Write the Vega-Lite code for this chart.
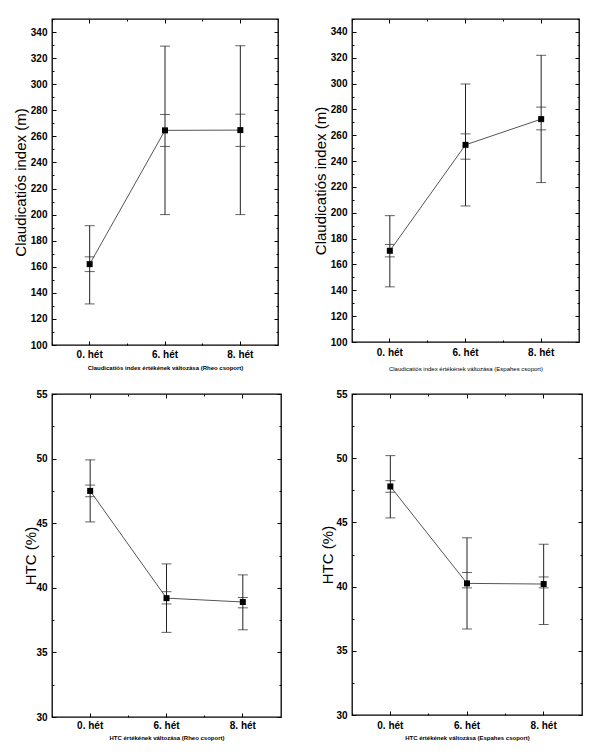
{
  "$schema": "https://vega.github.io/schema/vega-lite/v6.json",
  "padding": {"left": 12, "top": 17, "right": 5, "bottom": 5},
  "background": "white",
  "config": {
    "font": "Liberation Sans",
    "view": {"stroke": "black", "strokeWidth": 1.3},
    "axis": {"domain": false, "grid": false, "labelFont": "Liberation Sans", "labelFontSize": 10, "labelFontWeight": "bold", "labelColor": "black", "tickColor": "black", "tickWidth": 1, "titleFont": "Liberation Sans", "titleColor": "black"},
    "axisX": {"titleFontSize": 6, "titleFontWeight": "bold", "labelAngle": 0},
    "axisY": {"titleFontSize": 15, "titleFontWeight": "normal"}
  },
  "datasets": {
    "claud_rheo": [
      {"het": "0. hét", "mean": 162, "sd_lo": 131.5, "sd_hi": 191.5, "se_lo": 156.3, "se_hi": 167.6},
      {"het": "6. hét", "mean": 264.6, "sd_lo": 200, "sd_hi": 329.2, "se_lo": 252.3, "se_hi": 276.8},
      {"het": "8. hét", "mean": 264.8, "sd_lo": 200, "sd_hi": 329.5, "se_lo": 252.3, "se_hi": 277}
    ],
    "claud_esp": [
      {"het": "0. hét", "mean": 170.6, "sd_lo": 142.7, "sd_hi": 197.8, "se_lo": 165.9, "se_hi": 175.5},
      {"het": "6. hét", "mean": 252.6, "sd_lo": 205.3, "sd_hi": 299.7, "se_lo": 241.5, "se_hi": 261.1},
      {"het": "8. hét", "mean": 272.5, "sd_lo": 223.4, "sd_hi": 321.9, "se_lo": 264.2, "se_hi": 281.8}
    ],
    "htc_rheo": [
      {"het": "0. hét", "mean": 47.5, "sd_lo": 45.1, "sd_hi": 49.9, "se_lo": 47.05, "se_hi": 47.95},
      {"het": "6. hét", "mean": 39.2, "sd_lo": 36.55, "sd_hi": 41.85, "se_lo": 38.75, "se_hi": 39.7},
      {"het": "8. hét", "mean": 38.9, "sd_lo": 36.75, "sd_hi": 41.0, "se_lo": 38.45, "se_hi": 39.25}
    ],
    "htc_esp": [
      {"het": "0. hét", "mean": 47.8, "sd_lo": 45.35, "sd_hi": 50.2, "se_lo": 47.35, "se_hi": 48.25},
      {"het": "6. hét", "mean": 40.25, "sd_lo": 36.7, "sd_hi": 43.8, "se_lo": 39.9, "se_hi": 41.1},
      {"het": "8. hét", "mean": 40.2, "sd_lo": 37.05, "sd_hi": 43.3, "se_lo": 39.9, "se_hi": 40.75}
    ]
  },
  "columns": 2,
  "spacing": {"row": 16, "column": 29},
  "concat": [
    {
      "width": 226, "height": 326,
      "data": {"name": "claud_rheo"},
      "layer": [
        {"mark": {"type": "rule", "color": "#222", "strokeWidth": 1},
         "encoding": {
           "x": {"field": "het", "type": "nominal", "sort": null, "bandPosition": 0.5, "scale": {"type": "band", "paddingInner": 0, "paddingOuter": 0},
                 "axis": {"orient": "bottom", "title": "Claudicatiós index értékének változása (Rheo csoport)", "tickSize": -4, "labelPadding": 8, "bandPosition": 0.5, "titlePadding": 5}},
           "y": {"field": "sd_lo", "type": "quantitative", "scale": {"domain": [100, 350], "nice": false, "zero": false},
                 "axis": {"orient": "left", "title": "Claudicatiós index (m)", "values": [100,120,140,160,180,200,220,240,260,280,300,320,340], "tickSize": -4, "labelPadding": 9, "titlePadding": 2}},
           "y2": {"field": "sd_hi"}}},
        {"transform": [{"fold": ["sd_lo", "sd_hi", "se_lo", "se_hi"], "as": ["k", "v"]}],
         "mark": {"type": "tick", "orient": "horizontal", "size": 10, "thickness": 1, "color": "#222"},
         "encoding": {
           "x": {"field": "het", "type": "nominal", "sort": null, "bandPosition": 0.5, "axis": {"orient": "top", "labels": false, "title": null, "tickSize": -4, "bandPosition": 0.5}},
           "y": {"field": "v", "type": "quantitative", "axis": {"orient": "right", "labels": false, "title": null, "values": [100,120,140,160,180,200,220,240,260,280,300,320,340], "tickSize": -4}}}},
        {"mark": {"type": "line", "color": "#555", "strokeWidth": 1},
         "encoding": {
           "x": {"field": "het", "type": "nominal", "sort": null, "bandPosition": 0.5, "axis": {"orient": "bottom", "labels": false, "title": null, "tickSize": -2, "bandPosition": 0}},
           "y": {"field": "mean", "type": "quantitative", "axis": {"orient": "left", "labels": false, "title": null, "values": [110,130,150,170,190,210,230,250,270,290,310,330,350], "tickSize": -2}}}},
        {"mark": {"type": "square", "size": 36, "color": "black", "opacity": 1},
         "encoding": {
           "x": {"field": "het", "type": "nominal", "sort": null, "bandPosition": 0.5, "axis": {"orient": "top", "labels": false, "title": null, "tickSize": -2, "bandPosition": 0}},
           "y": {"field": "mean", "type": "quantitative", "axis": {"orient": "right", "labels": false, "title": null, "values": [110,130,150,170,190,210,230,250,270,290,310,330,350], "tickSize": -2}}}}
      ],
      "resolve": {"axis": {"x": "independent", "y": "independent"}}
    },
    {
      "width": 227, "height": 323,
      "data": {"name": "claud_esp"},
      "layer": [
        {"mark": {"type": "rule", "color": "#222", "strokeWidth": 1},
         "encoding": {
           "x": {"field": "het", "type": "nominal", "sort": null, "bandPosition": 0.5, "scale": {"type": "band", "paddingInner": 0, "paddingOuter": 0},
                 "axis": {"orient": "bottom", "title": "Claudicatiós index értékének változása (Espahes csoport)", "tickSize": -4, "labelPadding": 9, "bandPosition": 0.5, "titlePadding": 8, "titleFontWeight": "normal"}},
           "y": {"field": "sd_lo", "type": "quantitative", "scale": {"domain": [100, 350], "nice": false, "zero": false},
                 "axis": {"orient": "left", "title": "Claudicatiós index (m)", "values": [100,120,140,160,180,200,220,240,260,280,300,320,340], "tickSize": -4, "labelPadding": 9, "titlePadding": 2}},
           "y2": {"field": "sd_hi"}}},
        {"transform": [{"fold": ["sd_lo", "sd_hi", "se_lo", "se_hi"], "as": ["k", "v"]}],
         "mark": {"type": "tick", "orient": "horizontal", "size": 10, "thickness": 1, "color": "#222"},
         "encoding": {
           "x": {"field": "het", "type": "nominal", "sort": null, "bandPosition": 0.5, "axis": {"orient": "top", "labels": false, "title": null, "tickSize": -4, "bandPosition": 0.5}},
           "y": {"field": "v", "type": "quantitative", "axis": {"orient": "right", "labels": false, "title": null, "values": [100,120,140,160,180,200,220,240,260,280,300,320,340], "tickSize": -4}}}},
        {"mark": {"type": "line", "color": "#555", "strokeWidth": 1},
         "encoding": {
           "x": {"field": "het", "type": "nominal", "sort": null, "bandPosition": 0.5, "axis": {"orient": "bottom", "labels": false, "title": null, "tickSize": -2, "bandPosition": 0}},
           "y": {"field": "mean", "type": "quantitative", "axis": {"orient": "left", "labels": false, "title": null, "values": [110,130,150,170,190,210,230,250,270,290,310,330,350], "tickSize": -2}}}},
        {"mark": {"type": "square", "size": 36, "color": "black", "opacity": 1},
         "encoding": {
           "x": {"field": "het", "type": "nominal", "sort": null, "bandPosition": 0.5, "axis": {"orient": "top", "labels": false, "title": null, "tickSize": -2, "bandPosition": 0}},
           "y": {"field": "mean", "type": "quantitative", "axis": {"orient": "right", "labels": false, "title": null, "values": [110,130,150,170,190,210,230,250,270,290,310,330,350], "tickSize": -2}}}}
      ],
      "resolve": {"axis": {"x": "independent", "y": "independent"}}
    },
    {
      "width": 229, "height": 323,
      "data": {"name": "htc_rheo"},
      "layer": [
        {"mark": {"type": "rule", "color": "#222", "strokeWidth": 1},
         "encoding": {
           "x": {"field": "het", "type": "nominal", "sort": null, "bandPosition": 0.5, "scale": {"type": "band", "paddingInner": 0, "paddingOuter": 0},
                 "axis": {"orient": "bottom", "title": "HTC értékének változása (Rheo csoport)", "tickSize": -4, "labelPadding": 7, "bandPosition": 0.5, "titlePadding": 4}},
           "y": {"field": "sd_lo", "type": "quantitative", "scale": {"domain": [30, 55], "nice": false, "zero": false},
                 "axis": {"orient": "left", "title": "HTC (%)", "values": [30,35,40,45,50,55], "tickSize": -4, "labelPadding": 9, "titlePadding": -3}},
           "y2": {"field": "sd_hi"}}},
        {"transform": [{"fold": ["sd_lo", "sd_hi", "se_lo", "se_hi"], "as": ["k", "v"]}],
         "mark": {"type": "tick", "orient": "horizontal", "size": 10, "thickness": 1, "color": "#222"},
         "encoding": {
           "x": {"field": "het", "type": "nominal", "sort": null, "bandPosition": 0.5, "axis": {"orient": "top", "labels": false, "title": null, "tickSize": -4, "bandPosition": 0.5}},
           "y": {"field": "v", "type": "quantitative", "axis": {"orient": "right", "labels": false, "title": null, "values": [30,35,40,45,50,55], "tickSize": -4}}}},
        {"mark": {"type": "line", "color": "#555", "strokeWidth": 1},
         "encoding": {
           "x": {"field": "het", "type": "nominal", "sort": null, "bandPosition": 0.5, "axis": {"orient": "bottom", "labels": false, "title": null, "tickSize": -2, "bandPosition": 0}},
           "y": {"field": "mean", "type": "quantitative", "axis": {"orient": "left", "labels": false, "title": null, "values": [32.5,37.5,42.5,47.5,52.5], "tickSize": -2}}}},
        {"mark": {"type": "square", "size": 36, "color": "black", "opacity": 1},
         "encoding": {
           "x": {"field": "het", "type": "nominal", "sort": null, "bandPosition": 0.5, "axis": {"orient": "top", "labels": false, "title": null, "tickSize": -2, "bandPosition": 0}},
           "y": {"field": "mean", "type": "quantitative", "axis": {"orient": "right", "labels": false, "title": null, "values": [32.5,37.5,42.5,47.5,52.5], "tickSize": -2}}}}
      ],
      "resolve": {"axis": {"x": "independent", "y": "independent"}}
    },
    {
      "width": 230, "height": 321,
      "data": {"name": "htc_esp"},
      "layer": [
        {"mark": {"type": "rule", "color": "#222", "strokeWidth": 1},
         "encoding": {
           "x": {"field": "het", "type": "nominal", "sort": null, "bandPosition": 0.5, "scale": {"type": "band", "paddingInner": 0, "paddingOuter": 0},
                 "axis": {"orient": "bottom", "title": "HTC értékének változása (Espahes csoport)", "tickSize": -4, "labelPadding": 9, "bandPosition": 0.5, "titlePadding": 4}},
           "y": {"field": "sd_lo", "type": "quantitative", "scale": {"domain": [30, 55], "nice": false, "zero": false},
                 "axis": {"orient": "left", "title": "HTC (%)", "values": [30,35,40,45,50,55], "tickSize": -4, "labelPadding": 9, "titlePadding": 0}},
           "y2": {"field": "sd_hi"}}},
        {"transform": [{"fold": ["sd_lo", "sd_hi", "se_lo", "se_hi"], "as": ["k", "v"]}],
         "mark": {"type": "tick", "orient": "horizontal", "size": 10, "thickness": 1, "color": "#222"},
         "encoding": {
           "x": {"field": "het", "type": "nominal", "sort": null, "bandPosition": 0.5, "axis": {"orient": "top", "labels": false, "title": null, "tickSize": -4, "bandPosition": 0.5}},
           "y": {"field": "v", "type": "quantitative", "axis": {"orient": "right", "labels": false, "title": null, "values": [30,35,40,45,50,55], "tickSize": -4}}}},
        {"mark": {"type": "line", "color": "#555", "strokeWidth": 1},
         "encoding": {
           "x": {"field": "het", "type": "nominal", "sort": null, "bandPosition": 0.5, "axis": {"orient": "bottom", "labels": false, "title": null, "tickSize": -2, "bandPosition": 0}},
           "y": {"field": "mean", "type": "quantitative", "axis": {"orient": "left", "labels": false, "title": null, "values": [32.5,37.5,42.5,47.5,52.5], "tickSize": -2}}}},
        {"mark": {"type": "square", "size": 36, "color": "black", "opacity": 1},
         "encoding": {
           "x": {"field": "het", "type": "nominal", "sort": null, "bandPosition": 0.5, "axis": {"orient": "top", "labels": false, "title": null, "tickSize": -2, "bandPosition": 0}},
           "y": {"field": "mean", "type": "quantitative", "axis": {"orient": "right", "labels": false, "title": null, "values": [32.5,37.5,42.5,47.5,52.5], "tickSize": -2}}}}
      ],
      "resolve": {"axis": {"x": "independent", "y": "independent"}}
    }
  ]
}
